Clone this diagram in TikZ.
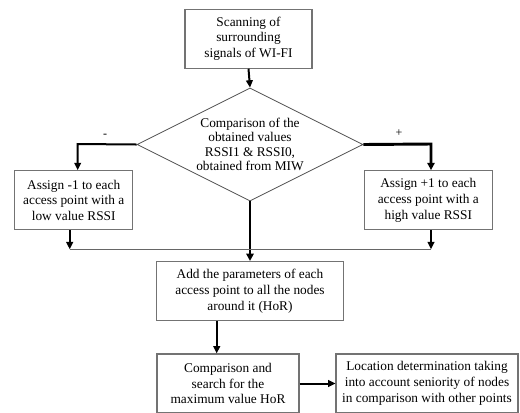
\documentclass[tikz,border=0pt]{standalone}
\usepackage{fontspec}
\setmainfont{Liberation Serif}
\usetikzlibrary{shapes.geometric,arrows.meta}
\begin{document}
\begin{tikzpicture}[x=0.75pt,y=-0.75pt,
  box/.style={draw=black!55,line width=0.8pt,rectangle,inner sep=0pt,align=center,
    font=\fontsize{10pt}{11.9pt}\selectfont},
  conn/.style={draw=black,line width=1.5pt,-{Triangle[length=5.5pt,width=5pt]}},
  thick conn/.style={draw=black,line width=2.2pt,-{Triangle[length=5.5pt,width=5.5pt]}},
  lbl/.style={font=\fontsize{9pt}{10pt}\selectfont,inner sep=0pt}]
\useasboundingbox (0,0) rectangle (520,412);
\clip (0,0) rectangle (520,412);

\node[box,minimum width=127*0.75pt,minimum height=59*0.75pt] (scan) at (248.5,38.7)
  {Scanning of\\surrounding\\signals of WI-FI};

\node[draw=black!70,line width=0.6pt,shape=diamond,inner sep=0pt,aspect=2,
  minimum width=226*0.75pt,minimum height=113*0.75pt,align=center,
  font=\fontsize{10pt}{10.8pt}\selectfont] (cmp) at (250,144.5)
  {Comparison of the\\obtained values\\RSSI1 \& RSSI0,\\obtained from MIW};

\node[box,minimum width=118*0.75pt,minimum height=59.3*0.75pt] (neg) at (73.7,200.3)
  {Assign -1 to each\\access point with a\\low value RSSI};
\node[box,minimum width=128*0.75pt,minimum height=59.3*0.75pt] (pos) at (428.3,200.3)
  {Assign +1 to each\\access point with a\\high value RSSI};

\node[box,minimum width=186.6*0.75pt,minimum height=59*0.75pt] (add) at (250,291)
  {Add the parameters of each\\access point to all the nodes\\around it (HoR)};

\node[box,minimum width=142*0.75pt,minimum height=59*0.75pt] (search) at (228,383.5)
  {Comparison and\\search for the\\maximum value HoR};
\node[box,minimum width=182*0.75pt,minimum height=59*0.75pt] (loc) at (427,383.5)
  {Location determination taking\\into account seniority of nodes\\in comparison with other points};

\node[lbl] (minus) at (105,136) {-};
\node[lbl] (plus) at (399,133) {+};

\coordinate (lcorner) at (77.7,144);
\coordinate (rcorner) at (431,144);
\coordinate (jl) at (69.7,249.3);
\coordinate (jr) at (431,249.3);

\draw[conn] (scan.south) -- (cmp.north);
\draw[conn] (cmp.west) -- (lcorner) -- (neg.north -| lcorner);
\draw[thick conn] (cmp.east) -- (rcorner) -- (pos.north -| rcorner);
\draw[thick conn] (cmp.south) -- (add.north);
\draw[draw=black!60,line width=1pt] (jl) -- (jr);
\draw[conn] (neg.south -| jl) -- (jl);
\draw[conn] (pos.south -| jr) -- (jr);
\draw[conn] (add.south -| 216.7,0) -- (search.north -| 216.7,0);
\draw[conn] (search.east) -- (loc.west);
\end{tikzpicture}
\end{document}
